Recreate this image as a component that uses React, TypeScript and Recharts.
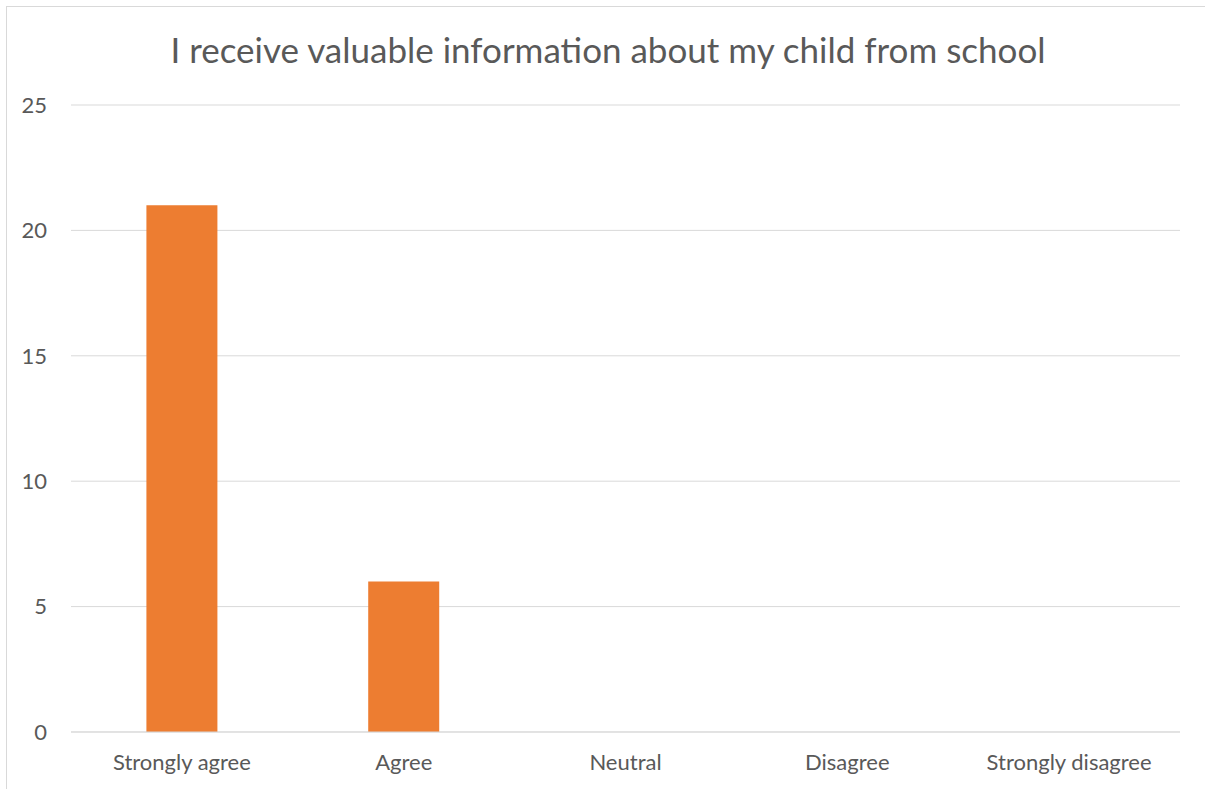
import { BarChart, Bar, XAxis, YAxis, CartesianGrid } from 'recharts';

const categories = ['Strongly agree', 'Agree', 'Neutral', 'Disagree', 'Strongly disagree'];
const counts = [21, 6, 0, 0, 0];
const yTicks = [0, 5, 10, 15, 20, 25];

const data = categories.map((name, i) => ({ name, count: counts[i] }));

const textColor = '#595959';
const font = 'Lato, "Open Sans", sans-serif';

export default function App() {
  return (
    <div
      style={{
        position: 'absolute',
        left: 0,
        top: 0,
        width: 1205,
        height: 789,
        overflow: 'hidden',
        background: '#fff',
        fontFamily: font,
      }}
    >
      <div
        style={{
          position: 'absolute',
          left: 6,
          top: 6,
          width: 1220,
          height: 800,
          border: '1px solid #d9d9d9',
        }}
      />
      <div
        style={{
          position: 'absolute',
          left: 0,
          width: 1216,
          top: 28,
          textAlign: 'center',
          fontSize: 35,
          color: textColor,
        }}
      >
        I receive valuable information about my child from school
      </div>
      <div style={{ position: 'absolute', left: 0, top: 0 }}>
        <BarChart
          width={1205}
          height={789}
          data={data}
          margin={{ top: 105, right: 25, bottom: 27, left: 21 }}
          barCategoryGap="34%"
        >
          <CartesianGrid stroke="#d9d9d9" vertical={false} />
          <XAxis
            dataKey="name"
            height={30}
            axisLine={{ stroke: '#d9d9d9' }}
            tickLine={false}
            tick={{ fill: textColor, fontSize: 22, fontFamily: font }}
            tickMargin={16}
            interval={0}
          />
          <YAxis
            width={50}
            domain={[0, 25]}
            ticks={yTicks}
            axisLine={false}
            tickLine={false}
            tick={{ fill: textColor, fontSize: 22, fontFamily: font }}
            tickMargin={18}
          />
          <Bar dataKey="count" fill="#ED7D31" isAnimationActive={false} />
        </BarChart>
      </div>
    </div>
  );
}
